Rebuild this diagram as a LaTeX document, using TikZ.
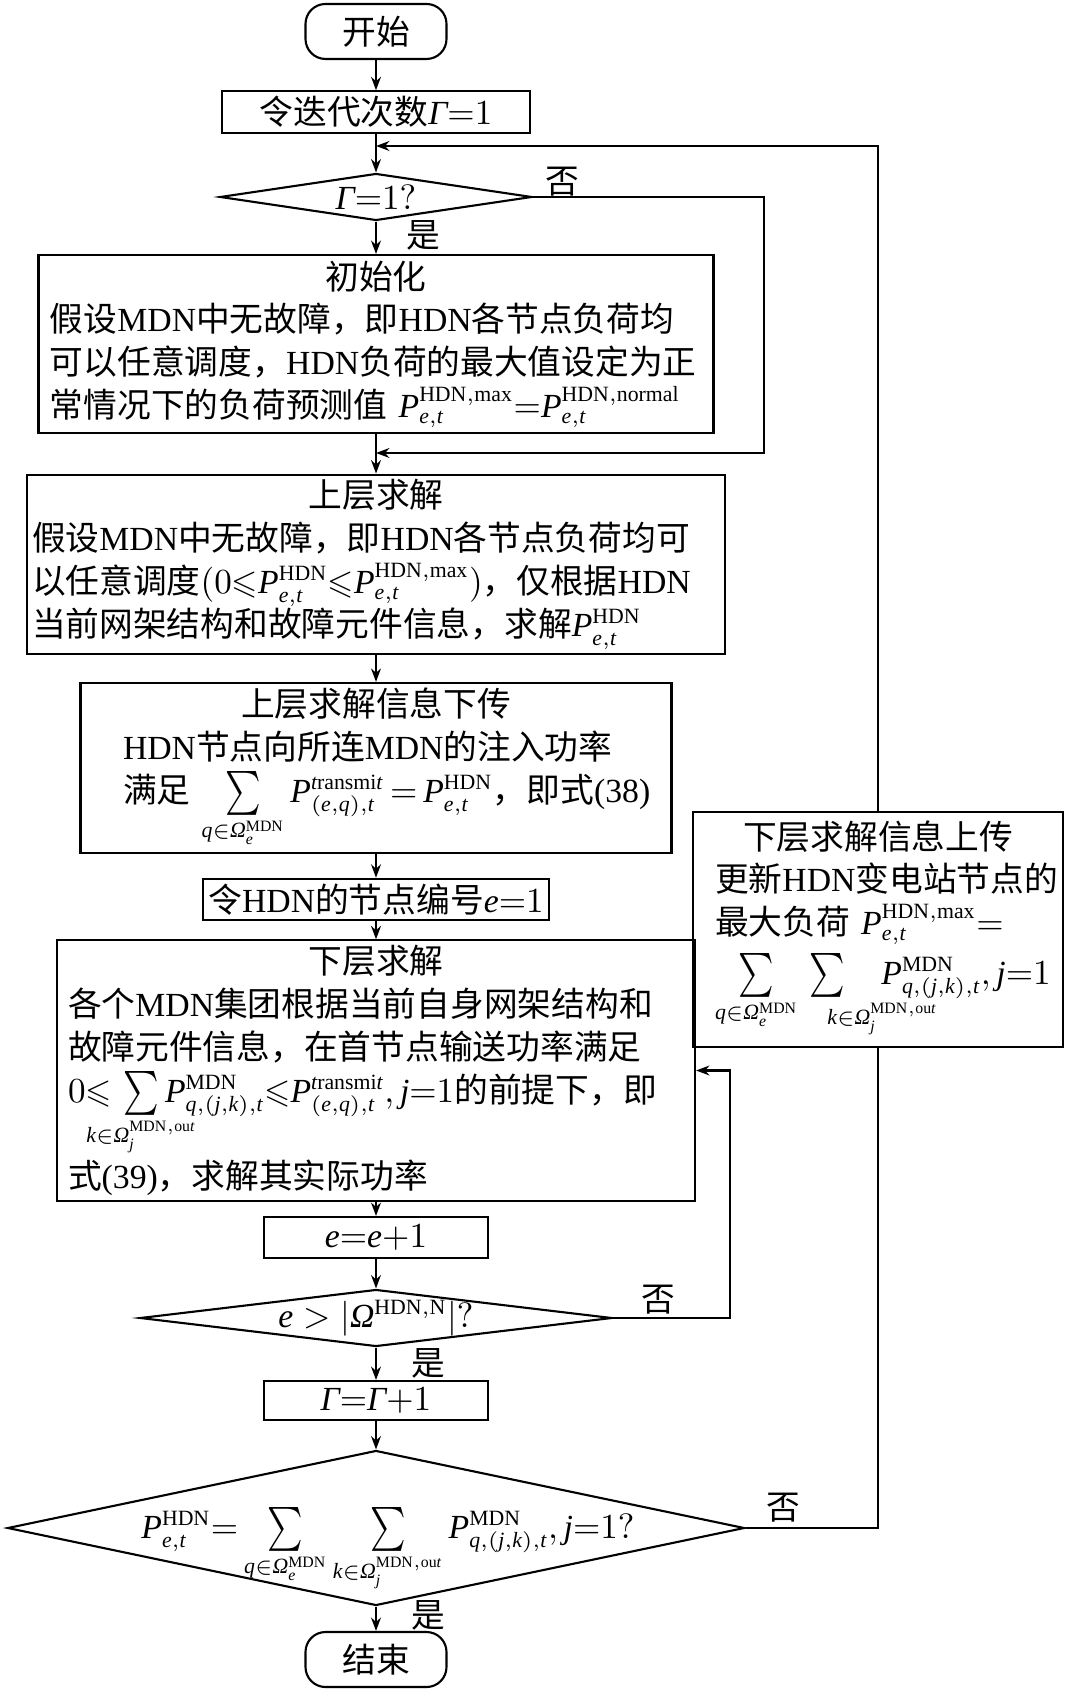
\documentclass[tikz,border=0pt]{standalone}
\usepackage{amsmath,amssymb,mathtools,graphicx}
\usepackage{fontspec}
\setmainfont{Noto Sans CJK SC}
\newfontfamily\enfont{Liberation Serif}[NFSSFamily=libser]
\setmathrm{Liberation Serif}
\DeclareSymbolFont{timesit}{TU}{libser}{m}{it}
\Umathcode`P=0 \symtimesit `P
\Umathcode`e=0 \symtimesit `e
\Umathcode`t=0 \symtimesit `t
\Umathcode`q=0 \symtimesit `q
\Umathcode`j=0 \symtimesit `j
\Umathcode`k=0 \symtimesit `k
\Umathchardef\varGamma=0 \symtimesit "0393
\Umathchardef\varOmega=0 \symtimesit "03A9
\DeclareMathSizes{9.6}{9.6}{6.2}{4.5}
\newcommand{\en}[1]{{\enfont #1}}
\newcommand{\tsum}{\mathop{\vcenter{\hbox{\scalebox{1}[1.3]{$\textstyle\sum$}}}}\limits}
\relpenalty=10000
\binoppenalty=10000
\usetikzlibrary{arrows.meta,shapes.geometric,positioning,calc}

\begin{document}
\begin{tikzpicture}[
    font=\fontsize{9.6}{12.2}\selectfont,
    box/.style={draw, line width=0.6pt, inner sep=0.05cm, align=center},
    txtbox/.style={box, align=left},
    term/.style={draw, line width=0.6pt, rounded corners=0.2cm, minimum width=1.41cm, minimum height=0.55cm},
    decision/.style={draw, diamond, line width=0.6pt, inner sep=0pt},
    arr/.style={-{Stealth[length=3.8pt,width=2.8pt]}, line width=0.6pt},
    lbl/.style={inner sep=0pt}
]
\useasboundingbox (0,0) rectangle (10.69,-16.90);

% main column
\node[term] (start) at (3.76,-0.315) {开始};
\node[box, minimum width=3.08cm, minimum height=0.40cm] (setit) at (3.76,-1.12) {令迭代次数$\varGamma{=}1$};
\node[decision, minimum width=3.12cm, minimum height=0.47cm] (chkone) at (3.76,-1.97) {};
\node (chkonet) at (chkone) {$\varGamma{=}1?$};
\node[txtbox, minimum width=6.75cm, minimum height=1.78cm, text width=6.52cm] (init) at (3.76,-3.44)
  {{\centering 初始化\par}
   假设\en{MDN}中无故障，即\en{HDN}各节点负荷均\\
   可以任意调度，\en{HDN}负荷的最大值设定为正\\
   常情况下的负荷预测值~$P_{e,t}^{\mathrm{HDN,max}}{=}P_{e,t}^{\mathrm{HDN,normal}}$};
\node[txtbox, minimum width=6.97cm, minimum height=1.77cm, text width=6.88cm] (upper) at (3.76,-5.645)
  {{\centering 上层求解\par}
   假设\en{MDN}中无故障，即\en{HDN}各节点负荷均可\\
   以任意调度$(0{\leqslant}P_{e,t}^{\mathrm{HDN}}{\leqslant}P_{e,t}^{\mathrm{HDN,max}})$，仅根据\en{HDN}\\
   当前网架结构和故障元件信息，求解$P_{e,t}^{\mathrm{HDN}}$};
\node[txtbox, minimum width=5.91cm, minimum height=1.70cm, text width=5.06cm] (pass) at (3.76,-7.68)
  {{\centering 上层求解信息下传\par}
   \en{HDN}节点向所连\en{MDN}的注入功率\\
   满足~$\tsum_{q\in\varOmega_e^{\mathrm{MDN}}} P_{(e,q),t}^{\mathrm{transmit}}\,{=}\,P_{e,t}^{\mathrm{HDN}}$，即式\en{(38)}};
\node[box, minimum width=3.45cm, minimum height=0.41cm] (setnode) at (3.76,-8.995) {令\en{HDN}的节点编号$e{=}1$};
\node[txtbox, minimum width=6.38cm, minimum height=2.35cm, text width=6.16cm] (lower) at (3.76,-10.705)
  {{\centering 下层求解\par}
   各个\en{MDN}集团根据当前自身网架结构和\\
   故障元件信息，在首节点输送功率满足\\
   $0{\leqslant}\,\tsum_{\mathclap{k\in\varOmega_j^{\mathrm{MDN,out}}}}P_{q,(j,k),t}^{\mathrm{MDN}}{\leqslant}P_{(e,q),t}^{\mathrm{transmit}},j{=}1$的前提下，即\\
   式\en{(39)}，求解其实际功率};
\node[box, minimum width=2.24cm, minimum height=0.41cm] (incr) at (3.76,-12.375) {$e{=}e{+}1$};
\node[decision, minimum width=4.72cm, minimum height=0.57cm] (chke) at (3.76,-13.18) {};
\node (chket) at (chke) {$e>|\varOmega^{\mathrm{HDN,N}}|?$};
\node[box, minimum width=2.24cm, minimum height=0.39cm] (nextit) at (3.76,-14.005) {$\varGamma{=}\varGamma{+}1$};
\node[decision, minimum width=7.37cm, minimum height=1.55cm] (chkconv) at (3.76,-15.28) {};
\node (chkconvt) at ([xshift=0.12cm,yshift=-0.22cm]chkconv) {$P_{e,t}^{\mathrm{HDN}}{=}\tsum_{q\in\varOmega_e^{\mathrm{MDN}}}\tsum_{k\in\varOmega_j^{\mathrm{MDN,out}}}P_{q,(j,k),t}^{\mathrm{MDN}},j{=}1?$};
\node[term] (stop) at (3.76,-16.595) {结束};

% feedback box on the right
\node[txtbox, minimum width=3.70cm, minimum height=2.35cm, text width=3.26cm] (feedback) at (8.78,-9.295)
  {{\centering 下层求解信息上传\par}
   更新\en{HDN}变电站节点的\\
   最大负荷~$P_{e,t}^{\mathrm{HDN,max}}{=}$\\[2pt]
   $\tsum_{q\in\varOmega_e^{\mathrm{MDN}}}\,\tsum_{\mathrlap{k\in\varOmega_j^{\mathrm{MDN,out}}}}\hspace{0.9em}P_{q,(j,k),t}^{\mathrm{MDN}},j{=}1$};

\coordinate (mergeA) at (3.76,-4.53);
\coordinate (mergeB) at (3.76,-1.46);
\coordinate (rA) at (7.64,-1.97);
\coordinate (rB) at (7.30,-13.18);

% labels
\node[lbl] (no1) at (5.62,-1.82) {否};
\node[lbl] (yes1) at (4.23,-2.35) {是};
\node[lbl] (no2) at (6.58,-13.00) {否};
\node[lbl] (yes2) at (4.28,-13.63) {是};
\node[lbl] (no3) at (7.83,-15.08) {否};
\node[lbl] (yes3) at (4.28,-16.15) {是};

% connectors
\draw[arr] (start) -- (setit);
\draw[arr] (setit) -- (chkone);
\draw[arr] (chkone) -- (init);
\draw[arr] (init) -- (upper);
\draw[arr] (upper) -- (pass);
\draw[arr] (pass) -- (setnode);
\draw[arr] (setnode) -- (lower);
\draw[arr] (lower) -- (incr);
\draw[arr] (incr) -- (chke);
\draw[arr] (chke) -- (nextit);
\draw[arr] (nextit) -- (chkconv);
\draw[arr] (chkconv) -- (stop);

\draw[arr] (chkone.east) -- (rA) |- (mergeA);
\draw[arr] (chke.east) -- (rB) |- (lower.east);
\draw (chkconv.east) -| (feedback.south);
\draw[arr] (feedback.north) |- (mergeB);
\end{tikzpicture}
\end{document}
